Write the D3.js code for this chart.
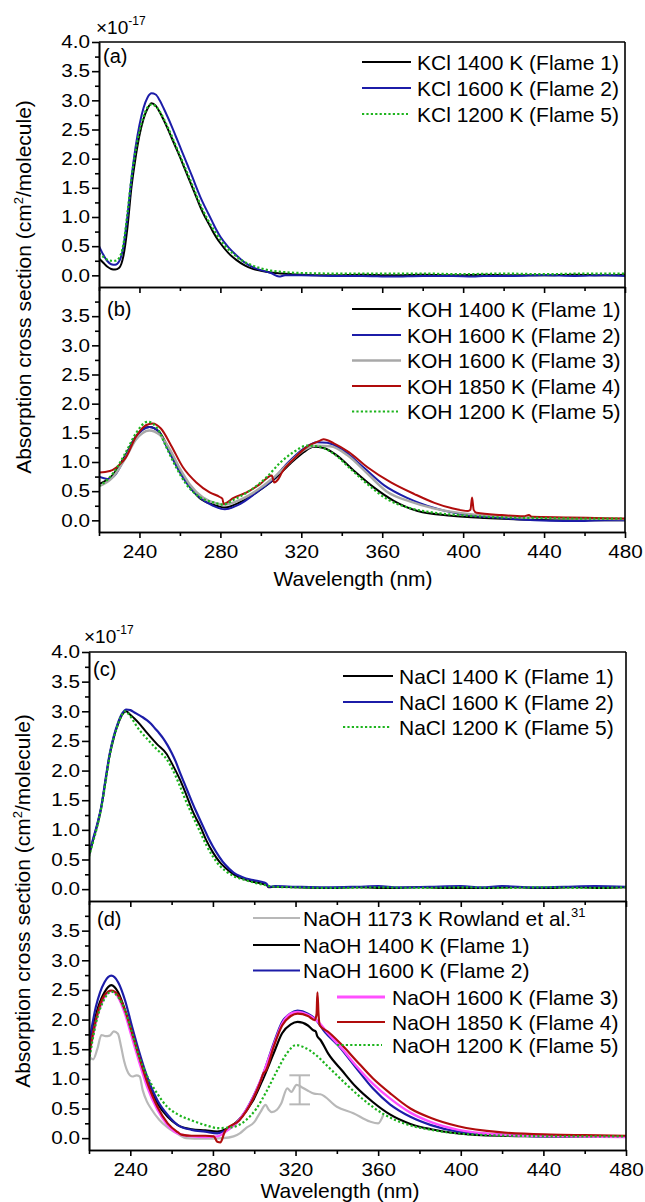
<!DOCTYPE html>
<html><head><meta charset="utf-8">
<script src="https://cdn.jsdelivr.net/npm/d3@7"></script>
<style>
body{margin:0;background:#fff}
svg{display:block}
text{font-family:"Liberation Sans",Arial,Helvetica,sans-serif;fill:#000}
</style>
</head><body>
<svg id="chart" width="645" height="1202"></svg>
<script>
// ---------- tick labels ----------
const xTickLabels = [240, 280, 320, 360, 400, 440, 480];
const xMinorTicks = [220, 260, 300, 340, 380, 420, 460];
const yTickLabelsTop = [0, 0.5, 1.0, 1.5, 2.0, 2.5, 3.0, 3.5, 4.0];
const yTickLabelsBottom = [0, 0.5, 1.0, 1.5, 2.0, 2.5, 3.0, 3.5];
const yMinorTicks = [0.25, 0.75, 1.25, 1.75, 2.25, 2.75, 3.25, 3.75];

// ---------- (a) KCl ----------
const kcl1400 = [[220,0.29],[222,0.22],[224,0.15],[226,0.11],[228,0.10],[230,0.13],[232,0.32],[234,0.80],[236,1.50],[238,2.00],[240,2.40],[242,2.68],[244,2.86],[246,2.95],[248,2.91],[250,2.80],[252,2.66],[254,2.51],[256,2.35],[258,2.19],[260,2.03],[262,1.86],[264,1.69],[266,1.52],[268,1.35],[270,1.18],[272,1.03],[274,0.90],[276,0.77],[278,0.65],[280,0.55],[284,0.38],[288,0.26],[292,0.17],[296,0.11],[300,0.08],[305,0.05],[310,0.03],[320,0.01],[335,0.0],[350,0.01],[365,0.0],[380,0.01],[395,0.0],[410,0.01],[425,0.0],[440,0.0],[455,0.01],[470,0.0],[480,0.01]];
const kcl1600 = [[220,0.50],[222,0.36],[224,0.25],[226,0.19],[228,0.18],[230,0.24],[232,0.48],[234,1.00],[236,1.65],[238,2.18],[240,2.58],[242,2.87],[244,3.05],[246,3.12],[248,3.10],[250,3.00],[252,2.86],[254,2.71],[256,2.55],[258,2.38],[260,2.21],[262,2.04],[264,1.87],[266,1.70],[268,1.52],[270,1.35],[272,1.20],[274,1.06],[276,0.92],[278,0.78],[280,0.66],[284,0.48],[288,0.34],[292,0.22],[296,0.14],[300,0.09],[305,0.04],[309,-0.02],[312,0.0],[320,0.0],[335,-0.01],[350,-0.01],[365,-0.02],[380,-0.01],[395,-0.01],[405,-0.02],[410,-0.01],[425,-0.01],[440,0.0],[455,-0.01],[470,0.0],[480,-0.01]];
const kcl1200 = [[220,0.38],[222,0.32],[224,0.27],[226,0.25],[228,0.25],[230,0.30],[232,0.52],[234,1.05],[236,1.65],[238,2.12],[240,2.47],[242,2.72],[244,2.88],[246,2.93],[248,2.90],[250,2.81],[254,2.54],[258,2.22],[262,1.89],[266,1.56],[270,1.22],[274,0.94],[278,0.71],[282,0.52],[286,0.38],[290,0.27],[295,0.18],[300,0.12],[305,0.08],[310,0.06],[320,0.04],[340,0.03],[360,0.03],[380,0.03],[400,0.02],[420,0.03],[440,0.02],[460,0.03],[480,0.03]];

// ---------- (b) KOH ----------
const koh1400 = [[220,0.62],[226.6,0.77],[233.3,1.13],[238.2,1.44],[244.9,1.60],[249.9,1.51],[254,1.26],[259,0.91],[264,0.62],[269.8,0.38],[276.4,0.27],[282.2,0.22],[289.7,0.31],[297.9,0.48],[306.2,0.69],[314.5,0.97],[321.2,1.17],[326.1,1.26],[331.1,1.24],[337.7,1.11],[346,0.85],[356,0.56],[365.9,0.33],[377.5,0.16],[394,0.08],[410.7,0.04],[435,0.01],[455,0.0],[480,0.0]];
const koh1600a = [[220,0.75],[225,0.71],[228,0.78],[233.3,1.11],[238.2,1.43],[241.5,1.55],[244.9,1.60],[249,1.54],[253.2,1.28],[258.1,0.94],[263.1,0.65],[269.8,0.39],[276.4,0.25],[282.2,0.19],[289.7,0.28],[297.9,0.48],[306.2,0.71],[312.9,0.97],[321.2,1.23],[327.8,1.34],[332.8,1.33],[341.1,1.19],[351,0.90],[361,0.60],[372.6,0.38],[385.8,0.21],[402.4,0.09],[419,0.04],[435.6,0.0],[450,-0.01],[460,-0.01],[470,0.0],[480,0.0]];
const koh1600b = [[220,0.58],[226.6,0.73],[233.3,1.08],[238.2,1.38],[244.9,1.54],[249.9,1.47],[254.8,1.23],[259.8,0.90],[264.8,0.62],[271.4,0.39],[278,0.29],[282.2,0.27],[289.7,0.35],[297.9,0.51],[306.2,0.73],[314.5,1.00],[321.2,1.20],[327.8,1.28],[334.4,1.27],[342.7,1.12],[352.7,0.80],[362,0.50],[374,0.32],[386,0.20],[400,0.12],[415,0.08],[430,0.05],[444,0.04],[460,0.03],[480,0.02]];
const koh1850 = [[220,0.82],[223,0.83],[226.6,0.86],[230,0.95],[233.3,1.08],[238.2,1.43],[243.2,1.63],[246.5,1.66],[250.7,1.57],[255.7,1.28],[261.5,0.91],[268.1,0.65],[274.7,0.48],[279.7,0.40],[281,0.37],[281.6,0.28],[283,0.30],[286.3,0.38],[293,0.48],[299.6,0.62],[305.4,0.77],[306.6,0.65],[308.7,0.71],[310.4,0.82],[316.2,1.05],[322.8,1.26],[329.5,1.37],[331,1.39],[336.1,1.32],[343.5,1.17],[352.7,0.91],[364.3,0.65],[375.9,0.45],[385.8,0.30],[394.1,0.21],[402.4,0.16],[403.6,0.18],[404.4,0.39],[405.2,0.18],[406.6,0.13],[419,0.09],[430,0.07],[432.5,0.09],[434,0.06],[452,0.05],[465,0.04],[480,0.03]];
const koh1200 = [[220,0.59],[223,0.66],[226.6,0.79],[233.3,1.17],[238.2,1.49],[244,1.69],[249,1.57],[253.2,1.26],[258.1,0.91],[263.1,0.62],[269.8,0.40],[276.4,0.31],[281.4,0.27],[286.3,0.35],[294.6,0.51],[302.9,0.74],[309.6,0.99],[316.2,1.17],[322.8,1.28],[327.8,1.27],[336.1,1.14],[344.4,0.88],[352.7,0.62],[362.6,0.36],[372.6,0.22],[385.8,0.13],[402.4,0.08],[419,0.05],[440,0.04],[460,0.03],[480,0.03]];

// ---------- (c) NaCl ----------
const nacl1400 = [[220,0.57],[222,0.83],[224,1.08],[226,1.39],[228,1.83],[230,2.26],[232,2.56],[234,2.78],[236,2.94],[238,3.00],[240,2.94],[242,2.88],[244.7,2.78],[248,2.64],[252.8,2.45],[257.6,2.28],[260,2.13],[264,1.85],[267,1.60],[270.5,1.29],[274,1.05],[277,0.81],[280,0.62],[283.4,0.45],[286,0.36],[290,0.25],[295,0.17],[300,0.12],[304,0.09],[306,0.07],[307,0.03],[310,0.04],[320,0.03],[335,0.02],[350,0.03],[365,0.02],[380,0.03],[395,0.02],[410,0.02],[425,0.03],[440,0.02],[455,0.03],[470,0.02],[480,0.03]];
const nacl1600 = [[220,0.59],[222,0.85],[224,1.10],[226,1.40],[228,1.85],[230,2.28],[232,2.58],[234,2.80],[236,2.96],[238,3.03],[240,3.02],[242,2.98],[244,2.94],[246,2.90],[248,2.85],[250,2.79],[252,2.71],[254,2.63],[256,2.54],[258,2.43],[260,2.30],[262,2.15],[264,1.97],[266,1.80],[268,1.63],[270,1.46],[272,1.30],[274,1.15],[276,1.00],[278,0.85],[280,0.72],[283,0.55],[286,0.41],[290,0.28],[293,0.22],[296,0.18],[300,0.15],[304,0.12],[306,0.09],[307,0.04],[310,0.05],[320,0.04],[335,0.03],[350,0.04],[360,0.05],[370,0.03],[385,0.04],[400,0.05],[410,0.03],[420,0.05],[435,0.03],[450,0.04],[465,0.05],[480,0.04]];
const nacl1200 = [[220,0.55],[222,0.80],[224,1.06],[226,1.38],[228,1.80],[230,2.25],[232,2.55],[234,2.78],[236,2.94],[237,3.00],[244.7,2.67],[248,2.54],[252.8,2.36],[257.6,2.19],[260,2.05],[264,1.74],[267,1.48],[270.5,1.21],[274,0.95],[277,0.73],[280,0.55],[283.4,0.39],[286,0.31],[290,0.22],[295,0.16],[300,0.11],[305,0.07],[310,0.04],[320,0.03],[340,0.02],[360,0.03],[380,0.02],[400,0.03],[420,0.02],[440,0.03],[460,0.02],[480,0.03]];

// ---------- (d) NaOH ----------
const naohRowland = [[220,1.37],[222,1.33],[224,1.50],[226,1.74],[228,1.72],[230,1.73],[232,1.80],[234,1.76],[235.5,1.55],[237,1.30],[239,1.10],[241,1.04],[243,1.06],[244.5,1.04],[246,0.81],[248,0.62],[250,0.50],[254,0.31],[258,0.18],[261,0.11],[264,0.05],[267,0.0],[275,-0.01],[285,0.0],[290,0.03],[293,0.08],[296,0.17],[300,0.27],[303,0.44],[305.5,0.56],[307,0.48],[308.5,0.44],[311,0.48],[313,0.58],[316,0.84],[318,0.78],[320.5,0.90],[323,0.86],[326,0.80],[329,0.75],[332,0.74],[340,0.53],[348,0.42],[356,0.28],[360,0.25],[362.5,0.39]];
const naohRowlandErr = [[322, 0.57, 1.06]];
const naoh1400 = [[220,1.48],[223.3,2.07],[227.5,2.46],[230.8,2.58],[234.1,2.46],[237.4,2.16],[240.7,1.77],[244,1.37],[248.1,0.95],[253.1,0.59],[258.1,0.36],[263,0.22],[269.7,0.15],[276.3,0.13],[282.1,0.11],[286.2,0.15],[292.8,0.32],[299.5,0.64],[304.4,1.01],[309.4,1.43],[313.5,1.77],[317.7,1.92],[321,1.96],[326,1.90],[328.6,1.82],[329.8,1.80],[330.5,1.72],[332,1.66],[335.9,1.42],[342.5,1.14],[349.1,0.87],[357.4,0.61],[365.7,0.40],[375.6,0.24],[385.6,0.15],[398.8,0.08],[418.7,0.04],[440,0.03],[460,0.02],[480,0.02]];
const naoh1600a = [[220,1.60],[223.3,2.21],[227.5,2.63],[230.8,2.74],[234.1,2.63],[237.4,2.33],[240.7,1.90],[244,1.49],[248.1,1.04],[253.1,0.64],[258.1,0.39],[263,0.22],[269.7,0.14],[276.3,0.11],[282.1,0.08],[286.2,0.13],[292.8,0.31],[299.5,0.70],[304.4,1.09],[309.4,1.60],[313.5,1.96],[317.7,2.11],[321,2.15],[326,2.10],[329.3,2.02],[334.2,1.79],[341,1.55],[349,1.20],[357.4,0.84],[365.7,0.57],[375.6,0.36],[385.6,0.22],[398.8,0.11],[418.7,0.06],[443.5,0.03],[480,0.03]];
const naoh1600b = [[220,1.37],[223.3,1.96],[227.5,2.38],[230.8,2.48],[234.1,2.38],[237.4,2.10],[240.7,1.71],[244,1.32],[248.1,0.87],[253.1,0.48],[258.1,0.22],[263,0.08],[269.7,0.03],[276.3,0.02],[282.1,0.03],[286.2,0.11],[292.8,0.31],[299.5,0.69],[304.4,1.09],[309.4,1.57],[313.5,1.93],[317.7,2.10],[321,2.13],[326,2.08],[331,1.96],[335.9,1.76],[342.5,1.51],[349.1,1.23],[357.4,0.92],[365.7,0.67],[375.6,0.43],[385.6,0.27],[398.8,0.14],[418.7,0.06],[443.5,0.03],[480,0.02]];
const naoh1850 = [[220,1.40],[223.3,1.99],[227.5,2.41],[230.8,2.49],[234.1,2.41],[237.4,2.16],[240.7,1.79],[244,1.40],[248.1,0.95],[253.1,0.53],[258.1,0.25],[263,0.10],[264.7,0.06],[269.7,0.04],[276.3,0.04],[280.4,0.03],[282.1,-0.06],[283.7,-0.07],[285.4,0.08],[286.2,0.14],[292.8,0.30],[299.5,0.67],[303,0.95],[304.4,1.09],[305.5,1.13],[309.4,1.54],[313.5,1.90],[317.7,2.06],[321,2.10],[326,2.06],[329.3,1.99],[330.2,2.10],[330.6,2.46],[331.1,2.10],[331.8,1.90],[335.9,1.79],[342.5,1.57],[349.1,1.32],[357.4,1.01],[365.7,0.76],[375.6,0.50],[385.6,0.34],[398.8,0.20],[418.7,0.10],[443.5,0.06],[460,0.05],[480,0.04]];
const naoh1200 = [[220,1.30],[223.3,1.93],[227.5,2.35],[230.8,2.47],[234.1,2.38],[237.4,2.16],[240.7,1.79],[244,1.40],[248.1,1.05],[253.1,0.75],[258.1,0.52],[263,0.40],[269.7,0.30],[276.3,0.22],[282.5,0.17],[290,0.19],[296.2,0.31],[301.1,0.50],[306.1,0.80],[311.1,1.14],[316,1.44],[320.2,1.57],[324.3,1.53],[329.3,1.42],[335.9,1.20],[344.2,0.92],[352.5,0.66],[362.4,0.41],[372.3,0.25],[385.6,0.14],[402.1,0.07],[425,0.04],[450,0.03],[480,0.03]];

// ---------- styles ----------
const C = {black:"#000000", blue:"#1c1ca8", gray:"#a8a8a8", red:"#b00c0c", green:"#1db41d", magenta:"#ff50ff", rowland:"#b8b8b8"};
const DOT = "2.2,2.2";

const svg = d3.select("#chart");
const defs = svg.append("defs");
let clipId = 0;

function drawBlock(cfg) {
  const x = d3.scaleLinear().domain([220, 480]).range([cfg.x0, cfg.x1]);
  cfg.panels.forEach((p, pi) => {
    const y = d3.scaleLinear().domain([-0.2, 4.0]).range([p.bottom, p.top]);
    const id = "clip" + (clipId++);
    defs.append("clipPath").attr("id", id).append("rect")
      .attr("x", cfg.x0).attr("y", p.top).attr("width", cfg.x1 - cfg.x0).attr("height", p.bottom - p.top);
    const g = svg.append("g").attr("clip-path", `url(#${id})`);
    const line = d3.line().x(d => x(d[0])).y(d => y(d[1])).curve(d3.curveMonotoneX);
    p.series.forEach(s => {
      g.append("path").datum(s.data).attr("d", line)
        .attr("fill", "none").attr("stroke", s.color).attr("stroke-width", s.w || 2)
        .attr("stroke-dasharray", s.dash || null).attr("stroke-linejoin", "round");
    });
    if (p.err) {
      p.err.forEach(e => {
        const cx = x(e[0]);
        const eg = g.append("g").attr("stroke", C.rowland).attr("stroke-width", 2).attr("fill", "none");
        eg.append("line").attr("x1", cx).attr("x2", cx).attr("y1", y(e[1])).attr("y2", y(e[2]));
        eg.append("line").attr("x1", x(e[0] - 5)).attr("x2", x(e[0] + 5)).attr("y1", y(e[1])).attr("y2", y(e[1]));
        eg.append("line").attr("x1", x(e[0] - 5)).attr("x2", x(e[0] + 5)).attr("y1", y(e[2])).attr("y2", y(e[2]));
      });
    }
    // left axis
    const la = svg.append("g").attr("transform", `translate(${cfg.x0},0)`);
    la.call(d3.axisLeft(y).tickValues(yMinorTicks).tickSize(4).tickSizeOuter(0).tickFormat(""));
    const lb = svg.append("g").attr("transform", `translate(${cfg.x0},0)`);
    lb.call(d3.axisLeft(y).tickValues(pi === 0 ? yTickLabelsTop : yTickLabelsBottom)
      .tickSize(7).tickPadding(2).tickSizeOuter(0).tickFormat(d3.format(".1f")));
    lb.selectAll("text").attr("font-size", 18).attr("font-family", '"Liberation Sans",Arial,sans-serif')
      .each(function () {
        const xx = +this.getAttribute("x");
        this.setAttribute("x", 0);
        this.setAttribute("transform", `translate(${xx},0) scale(1.15,1)`);
      });
    [la, lb].forEach(a => a.selectAll("path,line").attr("stroke", "#000").attr("stroke-width", 1.6));

    // frame
    const fr = svg.append("g").attr("stroke", "#000").attr("stroke-width", 1.6).attr("fill", "none");
    fr.append("line").attr("x1", cfg.x1).attr("x2", cfg.x1).attr("y1", p.top).attr("y2", p.bottom);
    if (pi === 0) {
      fr.append("line").attr("x1", cfg.x0).attr("x2", cfg.x1).attr("y1", p.top).attr("y2", p.top);
    } else {
      // inward ticks on shared edge
      const ta = svg.append("g").attr("transform", `translate(0,${p.top})`);
      ta.call(d3.axisBottom(x).tickValues(xTickLabels).tickSize(6).tickSizeOuter(0).tickFormat(""));
      const tb = svg.append("g").attr("transform", `translate(0,${p.top})`);
      tb.call(d3.axisBottom(x).tickValues(xMinorTicks).tickSize(4).tickSizeOuter(0).tickFormat(""));
      [ta, tb].forEach(a => a.selectAll("path,line").attr("stroke", "#000").attr("stroke-width", 1.6));
      // bottom axis
      const ba = svg.append("g").attr("transform", `translate(0,${p.bottom})`);
      ba.call(d3.axisBottom(x).tickValues(xMinorTicks).tickSize(4).tickSizeOuter(0).tickFormat(""));
      const bb = svg.append("g").attr("transform", `translate(0,${p.bottom})`);
      bb.call(d3.axisBottom(x).tickValues(xTickLabels).tickSize(6).tickPadding(7.5).tickSizeOuter(0).tickFormat(d3.format("d")));
      bb.selectAll("text").attr("font-size", 18).attr("font-family", '"Liberation Sans",Arial,sans-serif')
        .attr("transform", "scale(1.15,1)")
        .each(function () { });
      // fix scaled x position for tick labels (scale applies around tick group origin, x=0 so fine)
      [ba, bb].forEach(a => a.selectAll("path,line").attr("stroke", "#000").attr("stroke-width", 1.6));
    }
    // panel label
    svg.append("text").attr("x", p.lx).attr("y", p.ly).attr("font-size", 20).text(p.label);
    // legend
    p.legend.forEach((l, i) => {
      const cy = l.y;
      svg.append("line").attr("x1", l.x1).attr("x2", l.x2).attr("y1", cy).attr("y2", cy)
        .attr("stroke", l.s.color).attr("stroke-width", l.s.lw || l.s.w || 2).attr("stroke-dasharray", l.s.dash || null);
      const t = svg.append("text").attr("x", l.tx).attr("y", cy + 7.5).attr("font-size", 21).text(l.text);
      if (l.sup) t.append("tspan").attr("font-size", 13).attr("dy", -9).text(l.sup);
    });
  });
  // multiplier
  const m = svg.append("text").attr("x", cfg.mx).attr("y", cfg.my).attr("font-size", 19);
  m.append("tspan").text("\u00d710");
  m.append("tspan").attr("font-size", 12).attr("dy", -9).text("-17");
  // y title
  svg.append("text").attr("transform", `translate(${cfg.ytx},${cfg.yty}) rotate(-90)`)
    .attr("text-anchor", "middle").attr("font-size", 21)
    .call(t => {
      t.append("tspan").text("Absorption cross section (cm");
      t.append("tspan").attr("font-size", 13).attr("dy", -8).text("2");
      t.append("tspan").attr("dy", 8).text("/molecule)");
    });
  // x title
  svg.append("text").attr("x", cfg.xtx).attr("y", cfg.xty).attr("text-anchor", "middle")
    .attr("font-size", 21).text("Wavelength (nm)");
}

const S = {
  kcl1: {data: kcl1400, color: C.black}, kcl2: {data: kcl1600, color: C.blue}, kcl5: {data: kcl1200, color: C.green, dash: DOT, w: 2.2},
  koh1: {data: koh1400, color: C.black}, koh2: {data: koh1600a, color: C.blue}, koh3: {data: koh1600b, color: C.gray, w: 2.4},
  koh4: {data: koh1850, color: C.red}, koh5: {data: koh1200, color: C.green, dash: DOT, w: 2.2},
  nacl1: {data: nacl1400, color: C.black}, nacl2: {data: nacl1600, color: C.blue, w: 2.2}, nacl5: {data: nacl1200, color: C.green, dash: DOT, w: 2.2},
  row: {data: naohRowland, color: C.rowland, w: 2.2},
  naoh1: {data: naoh1400, color: C.black, w: 2.2}, naoh2: {data: naoh1600a, color: C.blue, w: 2.2}, naoh3: {data: naoh1600b, color: C.magenta, w: 2.4, lw: 3},
  naoh4: {data: naoh1850, color: C.red, w: 2.2}, naoh5: {data: naoh1200, color: C.green, dash: DOT, w: 2.2}
};

drawBlock({
  x0: 99, x1: 625, mx: 96, my: 34, ytx: 31, yty: 287, xtx: 353, xty: 586,
  panels: [
    {top: 42, bottom: 287, label: "(a)", lx: 103, ly: 63,
     series: [S.kcl1, S.kcl2, S.kcl5],
     legend: [
       {s: S.kcl1, x1: 362, x2: 411, tx: 417, y: 62, text: "KCl 1400 K (Flame 1)"},
       {s: S.kcl2, x1: 362, x2: 411, tx: 417, y: 88, text: "KCl 1600 K (Flame 2)"},
       {s: S.kcl5, x1: 362, x2: 408, tx: 417, y: 114, text: "KCl 1200 K (Flame 5)"}]},
    {top: 287, bottom: 532, label: "(b)", lx: 107, ly: 316,
     series: [S.koh1, S.koh2, S.koh3, S.koh4, S.koh5],
     legend: [
       {s: S.koh1, x1: 352, x2: 401, tx: 407, y: 309, text: "KOH 1400 K (Flame 1)"},
       {s: S.koh2, x1: 352, x2: 401, tx: 407, y: 335, text: "KOH 1600 K (Flame 2)"},
       {s: S.koh3, x1: 352, x2: 401, tx: 407, y: 360.5, text: "KOH 1600 K (Flame 3)"},
       {s: S.koh4, x1: 352, x2: 401, tx: 407, y: 386, text: "KOH 1850 K (Flame 4)"},
       {s: S.koh5, x1: 352, x2: 398, tx: 407, y: 411.5, text: "KOH 1200 K (Flame 5)"}]}
  ]
});

drawBlock({
  x0: 89, x1: 626, mx: 84, my: 643, ytx: 30, yty: 901, xtx: 340, xty: 1198,
  panels: [
    {top: 652, bottom: 901, label: "(c)", lx: 93, ly: 676,
     series: [S.nacl1, S.nacl2, S.nacl5],
     legend: [
       {s: S.nacl1, x1: 343, x2: 393, tx: 399, y: 676, text: "NaCl 1400 K (Flame 1)"},
       {s: S.nacl2, x1: 343, x2: 393, tx: 399, y: 702, text: "NaCl 1600 K (Flame 2)"},
       {s: S.nacl5, x1: 343, x2: 390, tx: 399, y: 727, text: "NaCl 1200 K (Flame 5)"}]},
    {top: 901, bottom: 1150, label: "(d)", lx: 97, ly: 926,
     series: [S.row, S.naoh1, S.naoh2, S.naoh3, S.naoh4, S.naoh5],
     err: naohRowlandErr,
     legend: [
       {s: S.row, x1: 253, x2: 300, tx: 303, y: 918, text: "NaOH 1173 K Rowland et al.", sup: "31"},
       {s: S.naoh1, x1: 253, x2: 300, tx: 303, y: 945, text: "NaOH 1400 K (Flame 1)"},
       {s: S.naoh2, x1: 253, x2: 300, tx: 303, y: 970.5, text: "NaOH 1600 K (Flame 2)"},
       {s: S.naoh3, x1: 337, x2: 385, tx: 392, y: 997, text: "NaOH 1600 K (Flame 3)"},
       {s: S.naoh4, x1: 337, x2: 385, tx: 392, y: 1022, text: "NaOH 1850 K (Flame 4)"},
       {s: S.naoh5, x1: 337, x2: 382, tx: 392, y: 1045, text: "NaOH 1200 K (Flame 5)"}]}
  ]
});
</script>
</body></html>
